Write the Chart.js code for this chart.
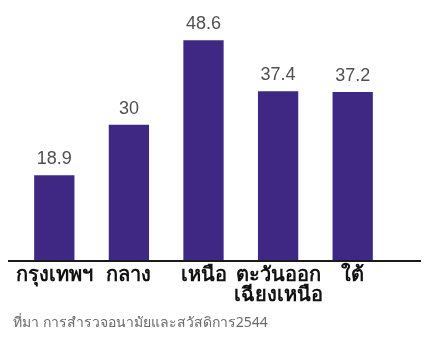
<!DOCTYPE html>
<html>
<head>
<meta charset="utf-8">
<script src="https://cdn.jsdelivr.net/npm/chart.js@4"></script>
<style>
  html, body { margin: 0; padding: 0; background: #fff; }
  #wrap { width: 425px; height: 340px; position: relative; }
</style>
</head>
<body>
<div id="wrap"><canvas id="chart"></canvas></div>
<script>
const regions = ["กรุงเทพฯ", "กลาง", "เหนือ", ["ตะวันออก", "เฉียงเหนือ"], "ใต้"];
const rates = [18.9, 30, 48.6, 37.4, 37.2];
const sourceNote = "ที่มา การสำรวจอนามัยและสวัสดิการ2544";

const BAR = "#3f2883";

// value labels above each bar, baseline rule and the source line
const extras = {
  id: "extras",
  afterDatasetsDraw(chart) {
    const c = chart.ctx;
    const meta = chart.getDatasetMeta(0);
    const yBase = chart.scales.y.getPixelForValue(0);

    c.save();
    c.strokeStyle = "#1a1a1a";
    c.lineWidth = 2;
    c.beginPath();
    c.moveTo(8, yBase);
    c.lineTo(421, yBase);
    c.stroke();

    c.font = "18px 'Liberation Sans', Arial, sans-serif";
    c.fillStyle = "#505050";
    c.textAlign = "center";
    c.textBaseline = "alphabetic";
    meta.data.forEach((bar, i) => {
      c.fillText(String(rates[i]), bar.x, bar.y - 11);
    });

    c.font = "14px 'Noto Sans', 'DejaVu Sans', sans-serif";
    c.fillStyle = "#6a6a6a";
    c.textAlign = "left";
    c.fillText(sourceNote, 13, 327);
    c.restore();
  }
};

new Chart(document.getElementById("chart"), {
  type: "bar",
  data: {
    labels: regions,
    datasets: [{
      data: rates,
      backgroundColor: BAR,
      borderWidth: 0,
      barPercentage: 0.54,
      categoryPercentage: 1
    }]
  },
  options: {
    responsive: true,
    maintainAspectRatio: false,
    animation: false,
    events: [],
    layout: { padding: { top: 34, left: 17, right: 35, bottom: 0 } },
    plugins: {
      legend: { display: false },
      tooltip: { enabled: false }
    },
    scales: {
      y: {
        display: false,
        min: 0,
        max: 50
      },
      x: {
        grid: { display: false, drawTicks: false },
        border: { display: false },
        afterFit(scale) { scale.height = 79; },
        ticks: {
          color: "#111",
          padding: 4,
          maxRotation: 0,
          autoSkip: false,
          font: { family: "'Noto Sans', 'DejaVu Sans', sans-serif", size: 20, weight: "bold", lineHeight: 1.0 }
        }
      }
    }
  },
  plugins: [extras]
});
</script>
</body>
</html>
